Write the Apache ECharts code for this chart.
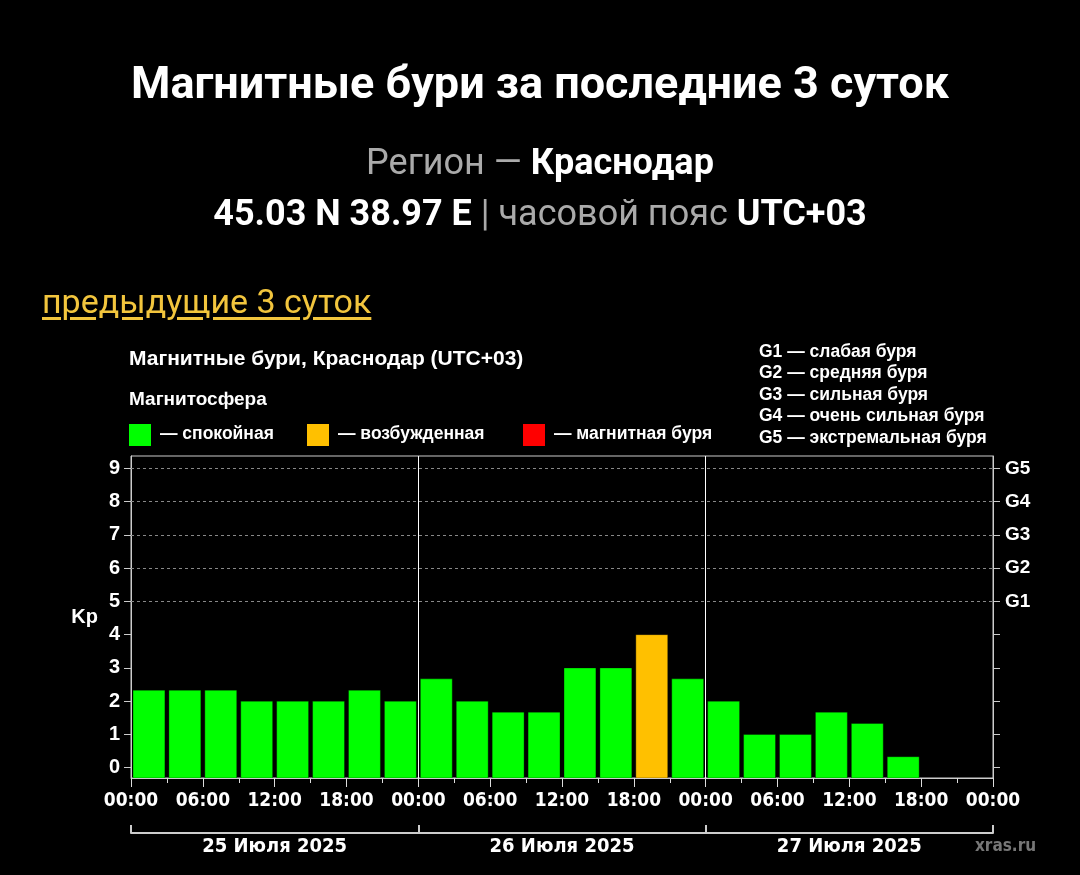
<!DOCTYPE html>
<html>
<head>
<meta charset="utf-8">
<script src="https://cdn.jsdelivr.net/npm/echarts@6/dist/echarts.min.js"></script>
<style>
  html, body { margin: 0; padding: 0; background: #000; }
  .page { position: relative; width: 1080px; height: 875px; overflow: hidden; }
  #chart { position: absolute; left: 0; top: 0; width: 1080px; height: 875px; }
  .head { position: absolute; left: 0; width: 1080px; text-align: center; font-family: Roboto, sans-serif; color: #fff; white-space: nowrap; }
  .h1 { top: 56px; font-size: 45px; font-weight: bold; }
  .h2 { top: 141px; font-size: 36px; }
  .h3 { top: 192px; font-size: 36px; }
  .grey { color: #aaa; font-weight: normal; }
  b { font-weight: bold; }
  .link { position: absolute; left: 42px; top: 281px; font-family: Roboto, sans-serif; font-size: 34px; color: #f2c53d; text-decoration: underline; text-underline-offset: 4px; }
</style>
</head>
<body>
<div class="page">
  <div id="chart"></div>
  <div class="head h1">Магнитные бури за последние 3 суток</div>
  <div class="head h2"><span class="grey">Регион — </span><b>Краснодар</b></div>
  <div class="head h3"><b>45.03 N 38.97 E</b><span class="grey"> | часовой пояс </span><b>UTC+03</b></div>
  <div class="link">предыдущие 3 суток</div>
</div>
<script>
  // Kp по трёхчасовым интервалам, 25-27 июля 2025
  var kpValues = [2.33, 2.33, 2.33, 2, 2, 2, 2.33, 2,
                  2.67, 2, 1.67, 1.67, 3, 3, 4, 2.67,
                  2, 1, 1, 1.67, 1.33, 0.33, null, null];
  var dayLabels = ['25 Июля 2025', '26 Июля 2025', '27 Июля 2025'];
  var kpTicks = [0, 1, 2, 3, 4, 5, 6, 7, 8, 9];
  var gLevels = {5: 'G1', 6: 'G2', 7: 'G3', 8: 'G4', 9: 'G5'};
  var gLegend = ['G1 — слабая буря', 'G2 — средняя буря', 'G3 — сильная буря',
                 'G4 — очень сильная буря', 'G5 — экстремальная буря'];
  var stepHours = 3;

  var font = '"Liberation Sans", Arial, sans-serif';
  var narrow = '"Liberation Sans Narrow", "DejaVu Sans Condensed", sans-serif';

  var barData = kpValues.map(function (v, i) { return [i * stepHours, v]; });

  function kpColor(v) {
    if (v >= 5) return '#ff0000';
    if (v >= 4) return '#ffc000';
    return '#00ff00';
  }

  var chart = echarts.init(document.getElementById('chart'));

  var legendItems = [
    {x: 129, color: '#00ff00', text: '— спокойная'},
    {x: 307, color: '#ffc000', text: '— возбужденная'},
    {x: 523, color: '#ff0000', text: '— магнитная буря'}
  ];
  var graphics = [
    {type: 'text', left: 129, top: 349, style: {text: 'Магнитные бури, Краснодар (UTC+03)', fill: '#fff', font: 'bold 21px ' + font}},
    {type: 'text', left: 129, top: 390, style: {text: 'Магнитосфера', fill: '#fff', font: 'bold 19px ' + font}},
    {type: 'text', left: 975, top: 838, style: {text: 'xras.ru', fill: '#777', font: 'bold 17px ' + narrow}}
  ];
  legendItems.forEach(function (it) {
    graphics.push({type: 'rect', shape: {x: it.x, y: 424, width: 22, height: 22}, style: {fill: it.color}});
    graphics.push({type: 'text', left: it.x + 31, top: 425, style: {text: it.text, fill: '#fff', font: 'bold 17.5px ' + font}});
  });
  gLegend.forEach(function (t, i) {
    graphics.push({type: 'text', left: 759, top: 343 + i * 21.5, style: {text: t, fill: '#fff', font: 'bold 17.5px ' + font}});
  });

  chart.setOption({
    backgroundColor: '#000',
    animation: false,
    grid: {left: 131, top: 456, width: 862, height: 322, show: true, borderColor: '#ccc', borderWidth: 1},
    graphic: graphics,
    xAxis: [{
      type: 'value', min: 0, max: 72, interval: 6,
      axisLine: {onZero: false, lineStyle: {color: '#ccc'}},
      axisTick: {length: 9, lineStyle: {color: '#ddd'}},
      minorTick: {show: true, splitNumber: 2, length: 5, lineStyle: {color: '#ddd'}},
      splitLine: {show: false},
      axisLabel: {
        color: '#fff', fontFamily: narrow, fontWeight: 'bold', fontSize: 19, margin: 14,
        formatter: function (v) { var h = v % 24; return (h < 10 ? '0' : '') + h + ':00'; }
      }
    }, {
      type: 'category', position: 'bottom', offset: 55, data: dayLabels,
      axisLine: {show: true, onZero: false, lineStyle: {color: '#ccc', width: 2}},
      axisTick: {show: true, inside: true, length: 8, lineStyle: {color: '#ccc', width: 2}},
      axisLabel: {color: '#fff', fontFamily: narrow, fontWeight: 'bold', fontSize: 20, margin: 4}
    }],
    yAxis: [{
      type: 'value', min: -0.31, max: 9.37, position: 'left',
      name: 'Kp', nameLocation: 'middle', nameRotate: 0, nameGap: 33,
      nameTextStyle: {color: '#fff', fontFamily: font, fontWeight: 'bold', fontSize: 20},
      axisLine: {show: true, onZero: false, lineStyle: {color: '#ccc'}},
      axisTick: {show: true, length: 7, customValues: kpTicks, lineStyle: {color: '#ccc'}},
      axisLabel: {customValues: kpTicks, color: '#fff', fontFamily: font, fontWeight: 'bold', fontSize: 20, margin: 11},
      splitLine: {show: false}
    }, {
      type: 'value', min: -0.31, max: 9.37, position: 'right',
      axisLine: {show: true, onZero: false, lineStyle: {color: '#ccc'}},
      axisTick: {show: true, length: 7, customValues: kpTicks, lineStyle: {color: '#ccc'}},
      axisLabel: {
        customValues: kpTicks, color: '#fff', fontFamily: font, fontWeight: 'bold', fontSize: 19, margin: 12,
        formatter: function (v) { return gLevels[v] || ''; }
      },
      splitLine: {show: false}
    }],
    series: [{
      type: 'custom',
      xAxisIndex: 0, yAxisIndex: 0,
      data: barData,
      clip: true,
      renderItem: function (params, api) {
        var v = api.value(1);
        if (v == null || isNaN(v)) return;
        var t = api.value(0);
        var p0 = api.coord([t, v]);
        var p1 = api.coord([t + stepHours, v]);
        var cs = params.coordSys;
        var bottom = cs.y + cs.height;
        return {
          type: 'rect',
          shape: {x: p0[0] + 2, y: p0[1], width: p1[0] - p0[0] - 4, height: bottom - p0[1]},
          style: {fill: kpColor(v), stroke: 'rgba(0,0,0,0.35)', lineWidth: 1}
        };
      }
    }, {
      type: 'line', xAxisIndex: 0, yAxisIndex: 0, data: [],
      markLine: {
        silent: true, symbol: 'none', label: {show: false},
        data: [
          {yAxis: 5, lineStyle: {color: '#888', type: [3, 3], width: 1}},
          {yAxis: 6, lineStyle: {color: '#888', type: [3, 3], width: 1}},
          {yAxis: 7, lineStyle: {color: '#888', type: [3, 3], width: 1}},
          {yAxis: 8, lineStyle: {color: '#888', type: [3, 3], width: 1}},
          {yAxis: 9, lineStyle: {color: '#888', type: [3, 3], width: 1}},
          {xAxis: 24, lineStyle: {color: '#fff', type: 'solid', width: 1}},
          {xAxis: 48, lineStyle: {color: '#fff', type: 'solid', width: 1}}
        ]
      }
    }]
  });
</script>
</body>
</html>
